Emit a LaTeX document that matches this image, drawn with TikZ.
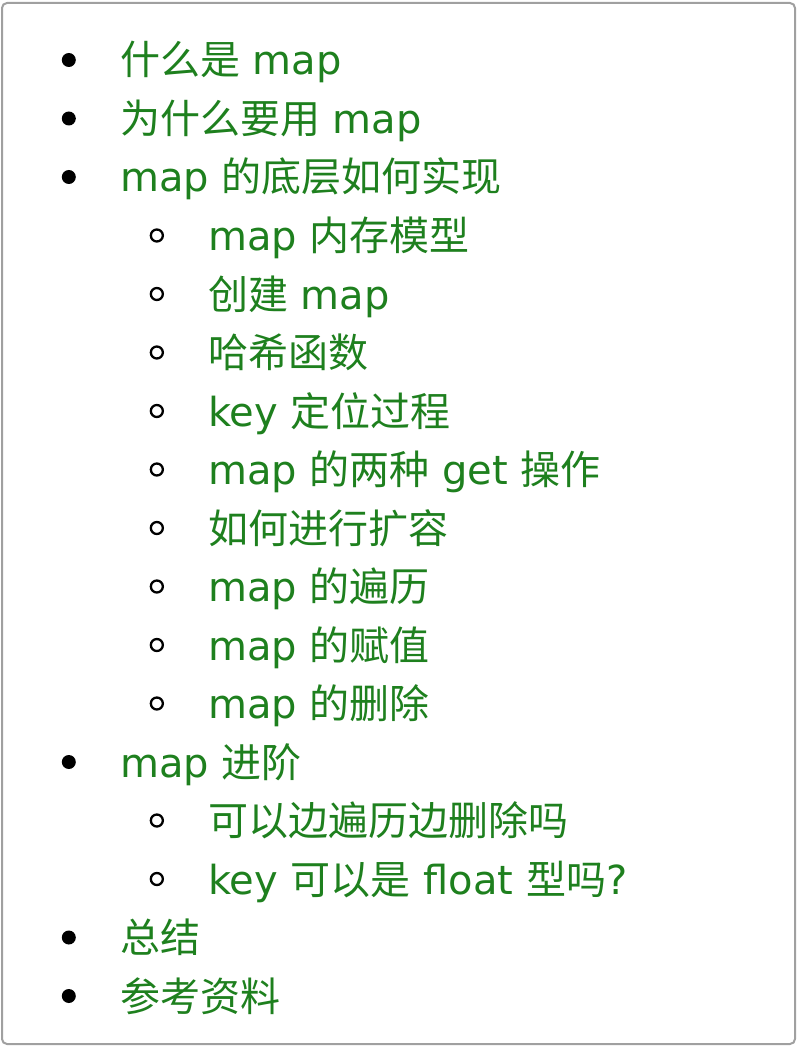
\documentclass[tikz,border=0pt]{standalone}
\usepackage{fontspec}
\setmainfont{DejaVu Sans}
\newfontfamily\zh{Noto Sans CJK SC}
\usetikzlibrary{positioning}
\definecolor{linkgreen}{RGB}{30,128,30}
\definecolor{framegray}{RGB}{160,160,160}

\begin{document}
\begin{tikzpicture}[
        x=1pt, y=-1pt,
        node distance=44pt,
        item/.style={anchor=west, inner sep=0pt, text height=32pt, text depth=2pt,
                     font=\fontsize{40}{42}\selectfont, text=linkgreen},
        dot/.style={circle, fill=black, inner sep=0pt, minimum size=14pt},
        ring/.style={circle, draw=black, line width=2.3pt, inner sep=0pt, minimum size=12pt},
    ]
        \useasboundingbox (0,0) rectangle (798,1048);
        \draw[framegray, line width=2pt, rounded corners=5pt, fill=white] (2,3) rectangle (795,1044);

        % top level
        \node[item] (what) at (120,60) {{\zh 什么是} map};
        \node[item] (why) at (120,118.5) {{\zh 为什么要用} map};
        \node[item] (impl) at (120,177) {map {\zh 的底层如何实现}};
        % how it is built
        \node[item] (mem) at (208,235.5) {map {\zh 内存模型}};
        \node[item] (create) at (208,294) {{\zh 创建} map};
        \node[item] (hash) at (208,352.5) {{\zh 哈希函数}};
        \node[item] (key) at (208,411) {key {\zh 定位过程}};
        \node[item] (get) at (208,469.5) {map {\zh 的两种} get {\zh 操作}};
        \node[item] (grow) at (208,528) {{\zh 如何进行扩容}};
        \node[item] (iter) at (208,586.5) {map {\zh 的遍历}};
        \node[item] (assign) at (208,645) {map {\zh 的赋值}};
        \node[item] (del) at (208,703.5) {map {\zh 的删除}};
        \node[item] (adv) at (120,762) {map {\zh 进阶}};
        % advanced
        \node[item] (iterdel) at (208,820.5) {{\zh 可以边遍历边删除吗}};
        \node[item] (floatkey) at (208,879) {key {\zh 可以是} float {\zh 型吗}?};
        \node[item] (sum) at (120,937.5) {{\zh 总结}};
        \node[item] (ref) at (120,996) {{\zh 参考资料}};

        % bullets
        \node[dot, left=of what] (bwhat) {};
        \node[dot, left=of why] (bwhy) {};
        \node[dot, left=of impl] (bimpl) {};
        \node[ring, left=of mem] (bmem) {};
        \node[ring, left=of create] (bcreate) {};
        \node[ring, left=of hash] (bhash) {};
        \node[ring, left=of key] (bkey) {};
        \node[ring, left=of get] (bget) {};
        \node[ring, left=of grow] (bgrow) {};
        \node[ring, left=of iter] (biter) {};
        \node[ring, left=of assign] (bassign) {};
        \node[ring, left=of del] (bdel) {};
        \node[dot, left=of adv] (badv) {};
        \node[ring, left=of iterdel] (biterdel) {};
        \node[ring, left=of floatkey] (bfloatkey) {};
        \node[dot, left=of sum] (bsum) {};
        \node[dot, left=of ref] (bref) {};
\end{tikzpicture}
\end{document}
